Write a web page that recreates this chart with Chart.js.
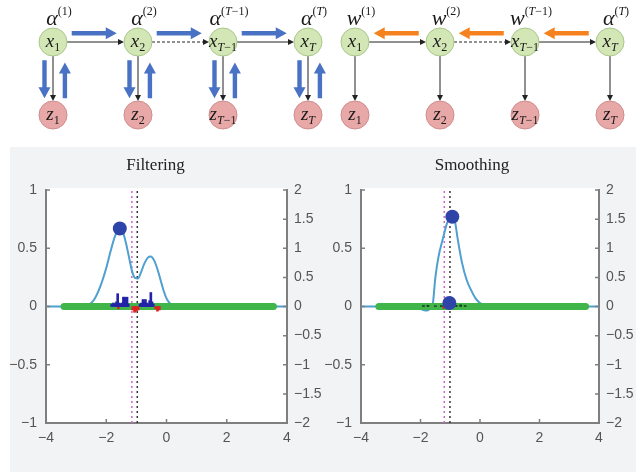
<!DOCTYPE html>
<html>
<head>
<meta charset="utf-8">
<script src="https://cdn.jsdelivr.net/npm/chart.js@4.4.1/dist/chart.umd.min.js"></script>
<style>
  html, body { margin: 0; padding: 0; background: #fff; }
  body { position: relative; width: 636px; height: 472px; overflow: hidden; }
  .panel { position: absolute; left: 10px; top: 147px; width: 626px; height: 325px; background: #f2f3f5; }
  canvas { position: absolute; }
  #diagram { left: 0; top: 0; }
  #filter { left: 0; top: 140px; }
  #smooth { left: 316px; top: 140px; }
</style>
</head>
<body>
<div class="panel"></div>
<canvas id="diagram" width="636" height="140"></canvas>
<canvas id="filter" width="332" height="332"></canvas>
<canvas id="smooth" width="320" height="332"></canvas>
<script>
// ---------- diagram labels ----------
const stateSub = ['1', '2', 'T−1', 'T'];
const fwdSym = ['α', 'α', 'α', 'α'];
const fwdSup = ['(1)', '(2)', '(T−1)', '(T)'];
const bwdSym = ['w', 'w', 'w', 'α'];
const bwdSup = ['(1)', '(2)', '(T−1)', '(T)'];
const linkDotted = [false, true, false];

// ---------- plot data (values on the left axis) ----------
const xTicks = [-4, -2, 0, 2, 4];
const leftTicks = [-1, -0.5, 0, 0.5, 1];
const rightTicks = [-2, -1.5, -1, -0.5, 0, 0.5, 1, 1.5, 2];
const greenSpan = [-3.4, 3.55];

const filterX = [-4, -2.8, -2.6, -2.4, -2.2, -2.0, -1.85, -1.7, -1.55, -1.45, -1.35, -1.25, -1.15, -1.05, -0.95, -0.85, -0.75, -0.62, -0.52, -0.42, -0.3, -0.2, -0.1, 0, 0.1, 0.2, 0.35, 4];
const filterY = [0, 0, 0.01, 0.06, 0.17, 0.33, 0.48, 0.61, 0.67, 0.64, 0.55, 0.43, 0.31, 0.245, 0.24, 0.29, 0.36, 0.42, 0.43, 0.40, 0.32, 0.23, 0.14, 0.07, 0.03, 0.01, 0, 0];
const filterPartX = [-1.82, -1.76, -1.7, -1.66, -1.62, -1.58, -1.53, -1.48, -1.43, -1.39, -1.35, -1.31, -1.27, -0.88, -0.83, -0.78, -0.74, -0.7, -0.66, -0.61, -0.56, -0.52, -0.48, -0.44];
const filterPartY = [0.02, 0.03, 0.02, 0.04, 0.11, 0.03, 0.02, 0.03, 0.08, 0.08, 0.07, 0.08, 0.02, 0.02, 0.03, 0.06, 0.04, 0.06, 0.03, 0.02, 0.05, 0.12, 0.04, 0.02];
const filterNegX = [-1.6, -1.12, -1.06, -1.0, -0.94, -0.36, -0.3, -0.24];
const filterNegY = [-0.02, -0.03, -0.05, -0.04, -0.03, -0.02, -0.04, -0.03];
const filterDots = [[-1.55, 0.67]];
const filterObs = -1.15, filterTrue = -0.97;

const smoothX = [-4, -2.3, -2.1, -1.9, -1.78, -1.68, -1.6, -1.5, -1.4, -1.25, -1.1, -0.95, -0.85, -0.75, -0.6, -0.45, -0.3, -0.15, 0, 0.2, 0.5, 4];
const smoothY = [0, 0, -0.01, -0.03, -0.035, -0.02, 0, 0.25, 0.42, 0.58, 0.72, 0.77, 0.74, 0.58, 0.37, 0.23, 0.14, 0.07, 0.03, 0.01, 0, 0];
const smoothPartX = [-1.9, -1.75, -1.5, -1.3, -0.8, -0.65, -0.5];
const smoothPartY = [0.008, 0.01, 0.006, 0.008, 0.01, 0.014, 0.008];
const smoothNegX = [-1.22];
const smoothNegY = [-0.015];
const smoothDots = [[-0.93, 0.77], [-1.03, 0.03]];
const smoothObs = -1.2, smoothTrue = -1.01;

const zip = (xs, ys) => xs.map((v, i) => ({ x: v, y: ys[i] }));
const minus = v => String(v).replace('-', '−');

// ---------- diagram ----------
const R = 14;
const chainStart = [0, 3.553];
const PX = 85, PY = 73;

function thinArrow(ctx, x0, y0, x1, y1, dotted) {
  const a = Math.atan2(y1 - y0, x1 - x0);
  ctx.save();
  ctx.strokeStyle = '#222'; ctx.fillStyle = '#222'; ctx.lineWidth = 1;
  if (dotted) ctx.setLineDash([3, 2]);
  ctx.beginPath(); ctx.moveTo(x0, y0); ctx.lineTo(x1 - 5 * Math.cos(a), y1 - 5 * Math.sin(a)); ctx.stroke();
  ctx.setLineDash([]);
  ctx.beginPath();
  ctx.moveTo(x1, y1);
  ctx.lineTo(x1 - 6 * Math.cos(a) + 3 * Math.sin(a), y1 - 6 * Math.sin(a) - 3 * Math.cos(a));
  ctx.lineTo(x1 - 6 * Math.cos(a) - 3 * Math.sin(a), y1 - 6 * Math.sin(a) + 3 * Math.cos(a));
  ctx.closePath(); ctx.fill();
  ctx.restore();
}

function fatArrow(ctx, x0, y0, x1, y1, color) {
  const a = Math.atan2(y1 - y0, x1 - x0), L = Math.hypot(x1 - x0, y1 - y0);
  const hl = 11, hw = 6, sw = 2.2;
  ctx.save();
  ctx.translate(x0, y0); ctx.rotate(a);
  ctx.fillStyle = color;
  ctx.beginPath();
  ctx.moveTo(0, -sw); ctx.lineTo(L - hl, -sw); ctx.lineTo(L - hl, -hw); ctx.lineTo(L, 0);
  ctx.lineTo(L - hl, hw); ctx.lineTo(L - hl, sw); ctx.lineTo(0, sw);
  ctx.closePath(); ctx.fill();
  ctx.restore();
}

function mathText(ctx, cx, base, pieces) {
  const font = (ch, size) => (/[A-Za-zα]/.test(ch) ? 'italic ' : '') + size + "px 'Liberation Serif', 'DejaVu Serif', serif";
  const runs = [];
  pieces.forEach(p => [...p.t].forEach(ch => runs.push({ ch, size: p.size, dy: p.dy })));
  let w = 0;
  runs.forEach(r => { ctx.font = font(r.ch, r.size); r.w = ctx.measureText(r.ch).width; w += r.w; });
  let xx = cx - w / 2;
  ctx.fillStyle = '#1a1a1a';
  ctx.textBaseline = 'alphabetic';
  runs.forEach(r => { ctx.font = font(r.ch, r.size); ctx.fillText(r.ch, xx, base + r.dy); xx += r.w; });
}

const diagramPlugin = {
  id: 'diagramLinks',
  beforeDatasetsDraw(chart) {
    const { ctx, scales: { x, y } } = chart;
    chainStart.forEach(c0 => {
      const py = y.getPixelForValue(1);
      linkDotted.forEach((dot, i) => {
        thinArrow(ctx, x.getPixelForValue(c0 + i) + R, py, x.getPixelForValue(c0 + i + 1) - R, py, dot);
      });
      stateSub.forEach((s, i) => {
        const px = x.getPixelForValue(c0 + i);
        thinArrow(ctx, px, py + R, px, y.getPixelForValue(0) - R, false);
      });
    });
  },
  afterDatasetsDraw(chart) {
    const { ctx, scales: { x, y } } = chart;
    const blue = '#4a72c4', orange = '#f5821f';
    chainStart.forEach((c0, c) => {
      const sym = c === 0 ? fwdSym : bwdSym, sup = c === 0 ? fwdSup : bwdSup;
      stateSub.forEach((s, i) => {
        const px = x.getPixelForValue(c0 + i);
        const py = y.getPixelForValue(1), pz = y.getPixelForValue(0);
        mathText(ctx, px, py + 5, [{ t: 'x', size: 19, dy: 0 }, { t: s, size: 12, dy: 4 }]);
        mathText(ctx, px, pz + 5, [{ t: 'z', size: 19, dy: 0 }, { t: s, size: 12, dy: 4 }]);
        mathText(ctx, px + 6, py - 17, [{ t: sym[i], size: 22, dy: 0 }, { t: sup[i], size: 12, dy: -10 }]);
      });
      linkDotted.forEach((d, i) => {
        const a = x.getPixelForValue(c0 + i + 0.22), b = x.getPixelForValue(c0 + i + 0.75);
        const hy = y.getPixelForValue(1.12);
        if (c === 0) fatArrow(ctx, a, hy, b, hy, blue);
        else fatArrow(ctx, b, hy, a, hy, orange);
      });
      if (c === 0) {
        stateSub.forEach((s, i) => {
          const dn = x.getPixelForValue(c0 + i - 0.1), up = x.getPixelForValue(c0 + i + 0.14);
          fatArrow(ctx, dn, y.getPixelForValue(0.75), dn, y.getPixelForValue(0.23), blue);
          fatArrow(ctx, up, y.getPixelForValue(0.23), up, y.getPixelForValue(0.72), blue);
        });
      }
    });
  }
};

const stateNodes = [], obsNodes = [];
chainStart.forEach(c0 => stateSub.forEach((s, i) => {
  stateNodes.push({ x: c0 + i, y: 1 });
  obsNodes.push({ x: c0 + i, y: 0 });
}));

const xMin = -53 / PX, yMax = 1 + 42 / PY;
new Chart(document.getElementById('diagram'), {
  type: 'scatter',
  data: {
    datasets: [
      { data: stateNodes, pointRadius: R, backgroundColor: '#d3e6b6', borderColor: '#a9c78b', borderWidth: 1 },
      { data: obsNodes, pointRadius: R, backgroundColor: '#e8a8a8', borderColor: '#d08c8c', borderWidth: 1 }
    ]
  },
  options: {
    responsive: false, animation: false,
    layout: { padding: 0, autoPadding: false },
    scales: {
      x: { type: 'linear', display: false, min: xMin, max: xMin + 636 / PX },
      y: { type: 'linear', display: false, min: yMax - 140 / PY, max: yMax }
    },
    plugins: { legend: { display: false }, tooltip: { enabled: false } }
  },
  plugins: [diagramPlugin]
});

// ---------- plots ----------
const tickFont = { family: "'Liberation Sans', Arial, sans-serif", size: 14 };

const plotBg = {
  id: 'plotBg',
  beforeDraw(chart) {
    const { ctx, chartArea: a } = chart;
    ctx.save(); ctx.fillStyle = '#fff';
    ctx.fillRect(a.left, a.top - 2, a.right - a.left, a.bottom - a.top + 2);
    ctx.restore();
  }
};

const inTicks = {
  id: 'inTicks',
  afterDraw(chart) {
    const { ctx, chartArea: a, scales } = chart;
    ctx.save(); ctx.strokeStyle = '#7f7f7f'; ctx.lineWidth = 1.5;
    ctx.beginPath();
    scales.x.ticks.forEach(t => { const p = scales.x.getPixelForValue(t.value); ctx.moveTo(p, a.bottom); ctx.lineTo(p, a.bottom - 4); });
    scales.y.ticks.forEach(t => { const p = scales.y.getPixelForValue(t.value); ctx.moveTo(a.left, p); ctx.lineTo(a.left + 4, p); });
    scales.y2.ticks.forEach(t => { const p = scales.y2.getPixelForValue(t.value); ctx.moveTo(a.right, p); ctx.lineTo(a.right - 4, p); });
    ctx.stroke(); ctx.restore();
  }
};

const plotTitle = {
  id: 'plotTitle',
  afterDraw(chart, args, opts) {
    const { ctx, chartArea: a } = chart;
    ctx.save();
    ctx.font = "17px 'Liberation Serif', serif"; ctx.fillStyle = '#222';
    ctx.textAlign = 'center'; ctx.textBaseline = 'middle';
    ctx.fillText(opts.text, (a.left + a.right) / 2 + opts.dx, a.top - 24);
    ctx.restore();
  }
};

function makePlot(id, o) {
  const line = (data, color, width, order, extra) => Object.assign({
    data, showLine: true, pointRadius: 0, borderColor: color, borderWidth: width, order
  }, extra || {});
  const vline = v => [{ x: v, y: -1 }, { x: v, y: 1 }];
  return new Chart(document.getElementById(id), {
    type: 'scatter',
    data: {
      datasets: [
        { data: o.dots.map(d => ({ x: d[0], y: d[1] })), pointRadius: o.dotR, backgroundColor: '#2f44a8', borderWidth: 0, order: 1 },
        { type: 'bar', data: zip(o.partX, o.partY), backgroundColor: o.partColor, barThickness: 2, grouped: false, order: 2 },
        { type: 'bar', data: zip(o.negX, o.negY), backgroundColor: '#dd2222', barThickness: 2, grouped: false, order: 2 },
        line(greenSpan.map(v => ({ x: v, y: 0 })), '#3fb54a', 7, 3, { borderCapStyle: 'round' }),
        line(zip(o.curveX, o.curveY), '#4f9fcf', 2, 4, { tension: 0.4, cubicInterpolationMode: 'monotone' }),
        line(vline(o.obs), '#cc66cc', 1.5, 5, { borderDash: [2, 3] }),
        line(vline(o.truth), '#333', 1.5, 5, { borderDash: [2, 3] })
      ]
    },
    options: {
      responsive: false, animation: false,
      layout: { padding: { top: 50, left: 0, right: 0, bottom: 0 }, autoPadding: false },
      scales: {
        x: {
          type: 'linear', min: -4, max: 4, offset: false,
          grid: { display: false, drawTicks: false, offset: false },
          border: { display: true, color: '#7f7f7f', width: 2 },
          afterBuildTicks: s => { s.ticks = xTicks.map(v => ({ value: v })); },
          afterFit: s => { s.height = 49; },
          ticks: { font: tickFont, color: '#555', padding: 7, maxRotation: 0, callback: minus }
        },
        y: {
          type: 'linear', position: 'left', min: -1, max: 1,
          grid: { display: false, drawTicks: false },
          border: { display: true, color: '#7f7f7f', width: 2 },
          afterBuildTicks: s => { s.ticks = leftTicks.map(v => ({ value: v })); },
          afterFit: s => { s.width = o.leftW; },
          ticks: { font: tickFont, color: '#555', padding: 9, callback: minus }
        },
        y2: {
          type: 'linear', position: 'right', min: -2, max: 2,
          grid: { display: false, drawTicks: false },
          border: { display: true, color: '#7f7f7f', width: 2 },
          afterBuildTicks: s => { s.ticks = rightTicks.map(v => ({ value: v })); },
          afterFit: s => { s.width = o.rightW; },
          ticks: { font: tickFont, color: '#555', padding: 7, callback: minus }
        }
      },
      plugins: {
        legend: { display: false }, tooltip: { enabled: false },
        plotTitle: { text: o.title, dx: o.titleDx }
      }
    },
    plugins: [plotBg, inTicks, plotTitle]
  });
}

makePlot('filter', {
  title: 'Filtering', titleDx: -11, leftW: 46, rightW: 45,
  curveX: filterX, curveY: filterY, partX: filterPartX, partY: filterPartY, partColor: '#2323a8',
  negX: filterNegX, negY: filterNegY, dots: filterDots, dotR: 7, obs: filterObs, truth: filterTrue
});

makePlot('smooth', {
  title: 'Smoothing', titleDx: -8, leftW: 45, rightW: 37,
  curveX: smoothX, curveY: smoothY, partX: smoothPartX, partY: smoothPartY, partColor: '#1d3a1d',
  negX: smoothNegX, negY: smoothNegY, dots: smoothDots, dotR: 7, obs: smoothObs, truth: smoothTrue
});
</script>
</body>
</html>
